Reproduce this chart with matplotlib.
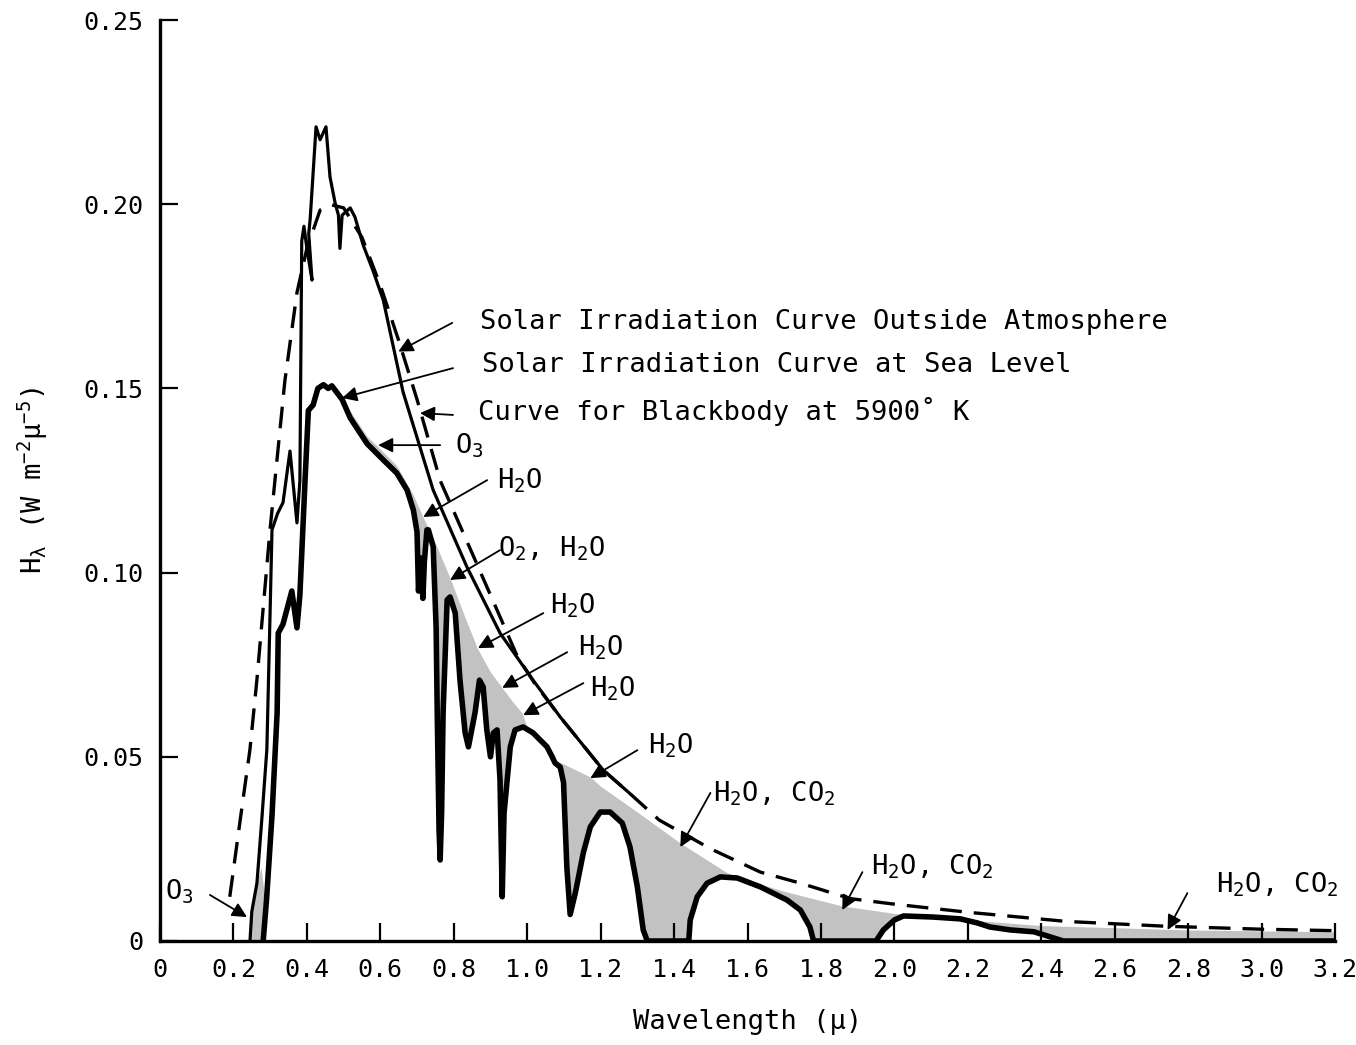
import numpy as np
import matplotlib
matplotlib.use("Agg")
import matplotlib.pyplot as plt

plt.rcParams['font.family'] = ['DejaVu Sans Mono', 'DejaVu Sans']
plt.rcParams['mathtext.fontset'] = 'custom'
plt.rcParams['mathtext.rm'] = 'DejaVu Sans Mono'
plt.rcParams['mathtext.it'] = 'DejaVu Sans Mono'
plt.rcParams['mathtext.bf'] = 'DejaVu Sans Mono'
plt.rcParams['mathtext.sf'] = 'DejaVu Sans Mono'

# ---------------- data (wavelength in micron, H in W m^-2 micron^-1 scaled) -------------
# Curve for blackbody at 5900 K (dashed)
bb_x = [0.19, 0.22, 0.245, 0.264, 0.30, 0.34, 0.373, 0.40, 0.436, 0.468, 0.50, 0.55, 0.60,
        0.65, 0.70, 0.763, 0.853, 0.973, 1.02, 1.09, 1.207, 1.28, 1.36, 1.50, 1.635, 1.744,
        1.88, 2.00, 2.20, 2.47, 2.74, 3.00, 3.20]
bb_y = [0.012, 0.034, 0.052, 0.071, 0.112, 0.152, 0.176, 0.188, 0.1984, 0.1998, 0.199, 0.191,
        0.178, 0.163, 0.147, 0.125, 0.1046, 0.0773, 0.070, 0.0608, 0.0464, 0.040, 0.0328,
        0.025, 0.0187, 0.0157, 0.0115, 0.0100, 0.0078, 0.0053, 0.0040, 0.0032, 0.0028]

# Solar irradiation curve outside atmosphere (solid)
out_x = [0.245, 0.250, 0.264, 0.278, 0.291, 0.300, 0.305, 0.320, 0.335, 0.354, 0.373, 0.381,
         0.386, 0.392, 0.400, 0.414, 0.405, 0.409, 0.425, 0.436, 0.452, 0.463, 0.477, 0.486,
         0.490, 0.496, 0.518, 0.531, 0.553, 0.580, 0.608, 0.662, 0.744, 0.836, 0.926, 1.016,
         1.090, 1.207, 1.280]
out_y = [0.000, 0.008, 0.0157, 0.034, 0.052, 0.090, 0.1116, 0.116, 0.119, 0.133, 0.1135, 0.125,
         0.190, 0.194, 0.188, 0.1794, 0.192, 0.196, 0.221, 0.2175, 0.221, 0.2074, 0.2003, 0.197,
         0.188, 0.197, 0.199, 0.1965, 0.189, 0.182, 0.174, 0.149, 0.1224, 0.1015, 0.0836, 0.0708,
         0.0608, 0.0464, 0.040]

# Solar irradiation curve at sea level (thick solid)
sea_x = [0.281, 0.290, 0.305, 0.319, 0.322, 0.335, 0.359, 0.373, 0.381, 0.395, 0.404, 0.417,
         0.430, 0.445, 0.458, 0.468, 0.496, 0.518, 0.564, 0.608, 0.645, 0.673, 0.690, 0.700,
         0.704, 0.709, 0.716, 0.720, 0.727, 0.731, 0.744, 0.752, 0.755, 0.760, 0.763, 0.767,
         0.771, 0.782, 0.790, 0.804, 0.817, 0.831, 0.840, 0.858, 0.870, 0.880, 0.890, 0.900,
         0.908, 0.918, 0.926, 0.932, 0.937, 0.954, 0.967, 0.989, 1.016, 1.054, 1.068, 1.076,
         1.090, 1.099, 1.108, 1.117, 1.131, 1.153, 1.172, 1.199, 1.226, 1.259, 1.280, 1.300,
         1.316, 1.327, 1.440, 1.444, 1.463, 1.490, 1.526, 1.572, 1.635, 1.708, 1.744, 1.770,
         1.780, 1.950, 1.970, 2.000, 2.025, 2.106, 2.180, 2.226, 2.260, 2.316, 2.380, 2.425,
         2.460, 3.200]
sea_y = [0.000, 0.011, 0.034, 0.062, 0.0836, 0.086, 0.095, 0.085, 0.094, 0.125, 0.144, 0.1455,
         0.150, 0.151, 0.150, 0.1507, 0.147, 0.142, 0.135, 0.1306, 0.127, 0.1224, 0.117, 0.111,
         0.095, 0.104, 0.093, 0.103, 0.1116, 0.1116, 0.107, 0.085, 0.062, 0.030, 0.022, 0.035,
         0.062, 0.0926, 0.0934, 0.089, 0.0708, 0.0565, 0.0527, 0.062, 0.0708, 0.069, 0.0573,
         0.050, 0.0565, 0.0573, 0.0437, 0.012, 0.0347, 0.0527, 0.0573, 0.0581, 0.0565, 0.0527,
         0.050, 0.0483, 0.0472, 0.043, 0.020, 0.0072, 0.013, 0.024, 0.031, 0.035, 0.035, 0.032,
         0.0255, 0.0147, 0.003, 0.000, 0.000, 0.0057, 0.012, 0.0157, 0.0174, 0.0171, 0.0147,
         0.0111, 0.0084, 0.0038, 0.000, 0.000, 0.003, 0.0057, 0.0068, 0.0065, 0.006, 0.0049,
         0.0038, 0.003, 0.0025, 0.0011, 0.000, 0.000]

# Upper edge of the shaded (absorption) region
abs_x = [0.245, 0.250, 0.264, 0.275, 0.290, 0.310, 0.490, 0.500, 0.520, 0.564, 0.600, 0.645,
         0.690, 0.714, 0.750, 0.790, 0.830, 0.864, 0.900, 0.932, 0.960, 0.986, 1.000, 1.020,
         1.060, 1.090, 1.172, 1.200, 1.300, 1.417, 1.545, 1.600, 1.700, 1.858, 2.000, 2.100,
         2.400, 2.800, 3.200]
abs_y = [0.000, 0.008, 0.0157, 0.020, 0.008, 0.000, 0.000, 0.146, 0.1435, 0.137, 0.1335, 0.129,
         0.121, 0.1156, 0.108, 0.0985, 0.088, 0.0795, 0.073, 0.0687, 0.065, 0.0619, 0.058, 0.054,
         0.050, 0.0485, 0.0445, 0.042, 0.035, 0.0266, 0.0185, 0.0165, 0.0135, 0.0095, 0.0075,
         0.0065, 0.0042, 0.003, 0.0025]

xtick_vals = [0, 0.2, 0.4, 0.6, 0.8, 1.0, 1.2, 1.4, 1.6, 1.8, 2.0, 2.2, 2.4, 2.6, 2.8, 3.0, 3.2]
xtick_labels = ['0', '0.2', '0.4', '0.6', '0.8', '1.0', '1.2', '1.4', '1.6', '1.8', '2.0',
                '2.2', '2.4', '2.6', '2.8', '3.0', '3.2']
ytick_vals = [0, 0.05, 0.10, 0.15, 0.20, 0.25]
ytick_labels = ['0', '0.05', '0.10', '0.15', '0.20', '0.25']

# annotations: text, text position, arrow start, arrow tip
ann_texts = ['Solar Irradiation Curve Outside Atmosphere',
             'Solar Irradiation Curve at Sea Level',
             'Curve for Blackbody at 5900\u02da K',
             'O$_3$', 'H$_2$O', 'O$_2$, H$_2$O', 'H$_2$O', 'H$_2$O', 'H$_2$O', 'H$_2$O',
             'H$_2$O, CO$_2$', 'H$_2$O, CO$_2$', 'H$_2$O, CO$_2$', 'O$_3$']
ann_text_xy = [(0.872, 0.168), (0.877, 0.1563), (0.866, 0.1436), (0.804, 0.1345),
               (0.918, 0.1250), (0.921, 0.1065), (1.063, 0.0910), (1.139, 0.0795),
               (1.172, 0.0686), (1.330, 0.0530), (1.507, 0.0400), (1.935, 0.0202),
               (2.875, 0.0152), (0.014, 0.0135)]
ann_start = [(0.796, 0.1678), (0.798, 0.1555), (0.798, 0.1428), (0.763, 0.1346),
             (0.891, 0.1251), (0.926, 0.1061), (1.044, 0.089), (1.109, 0.0784),
             (1.153, 0.070), (1.300, 0.0518), (1.499, 0.0402), (1.913, 0.0187),
             (2.798, 0.013), (0.136, 0.0125)]
ann_tip = [(0.649, 0.160), (0.496, 0.1474), (0.708, 0.1433), (0.594, 0.1346),
           (0.717, 0.1151), (0.790, 0.098), (0.866, 0.0795), (0.932, 0.0687),
           (0.989, 0.0613), (1.172, 0.0442), (1.417, 0.0255), (1.858, 0.0084),
           (2.744, 0.003), (0.237, 0.0065)]

# ---------------- figure ----------------
fig = plt.figure(figsize=(13.56, 10.45), dpi=100)
ax = fig.add_axes([160 / 1356, 1 - 941 / 1045, (1335 - 160) / 1356, (941 - 20) / 1045])

ax.fill_between(abs_x, 0, abs_y, color='#c2c2c2', lw=0, zorder=1)
ax.fill_between(sea_x, 0, sea_y, color='white', lw=0, zorder=1.5)

ax.plot(bb_x, bb_y, color='black', lw=2.4, ls=(0, (6.5, 3.6)), zorder=3, solid_capstyle='butt')
ax.plot(out_x, out_y, color='black', lw=2.3, zorder=3.2, solid_joinstyle='round')
ax.plot(sea_x, sea_y, color='black', lw=4.0, zorder=3.4, solid_joinstyle='round')

fs = 19.5
for t, txy, s, tip in zip(ann_texts, ann_text_xy, ann_start, ann_tip):
    ax.annotate('', xy=tip, xytext=s,
                arrowprops=dict(arrowstyle='-|>', color='black', lw=1.3,
                                mutation_scale=22, shrinkA=0, shrinkB=0), zorder=4)
    ax.text(txy[0], txy[1], t, ha='left', va='center', fontsize=fs, zorder=4)

ax.set_xlim(0, 3.2)
ax.set_ylim(0, 0.25)
ax.set_xticks(xtick_vals)
ax.set_xticklabels(xtick_labels)
ax.set_yticks(ytick_vals)
ax.set_yticklabels(ytick_labels)
ax.tick_params(direction='in', length=13, width=1.6, labelsize=18, pad=12)
for side in ['top', 'right']:
    ax.spines[side].set_visible(False)
for side in ['left', 'bottom']:
    ax.spines[side].set_linewidth(2.4)

ax.set_xlabel('Wavelength (\u03bc)', fontsize=fs, labelpad=20)
ax.set_ylabel('H$_\\lambda$ (W m$^{-2}$\u03bc$^{-5}$)', fontsize=fs, labelpad=24)

fig.savefig('out.png', dpi=100, facecolor='white')
